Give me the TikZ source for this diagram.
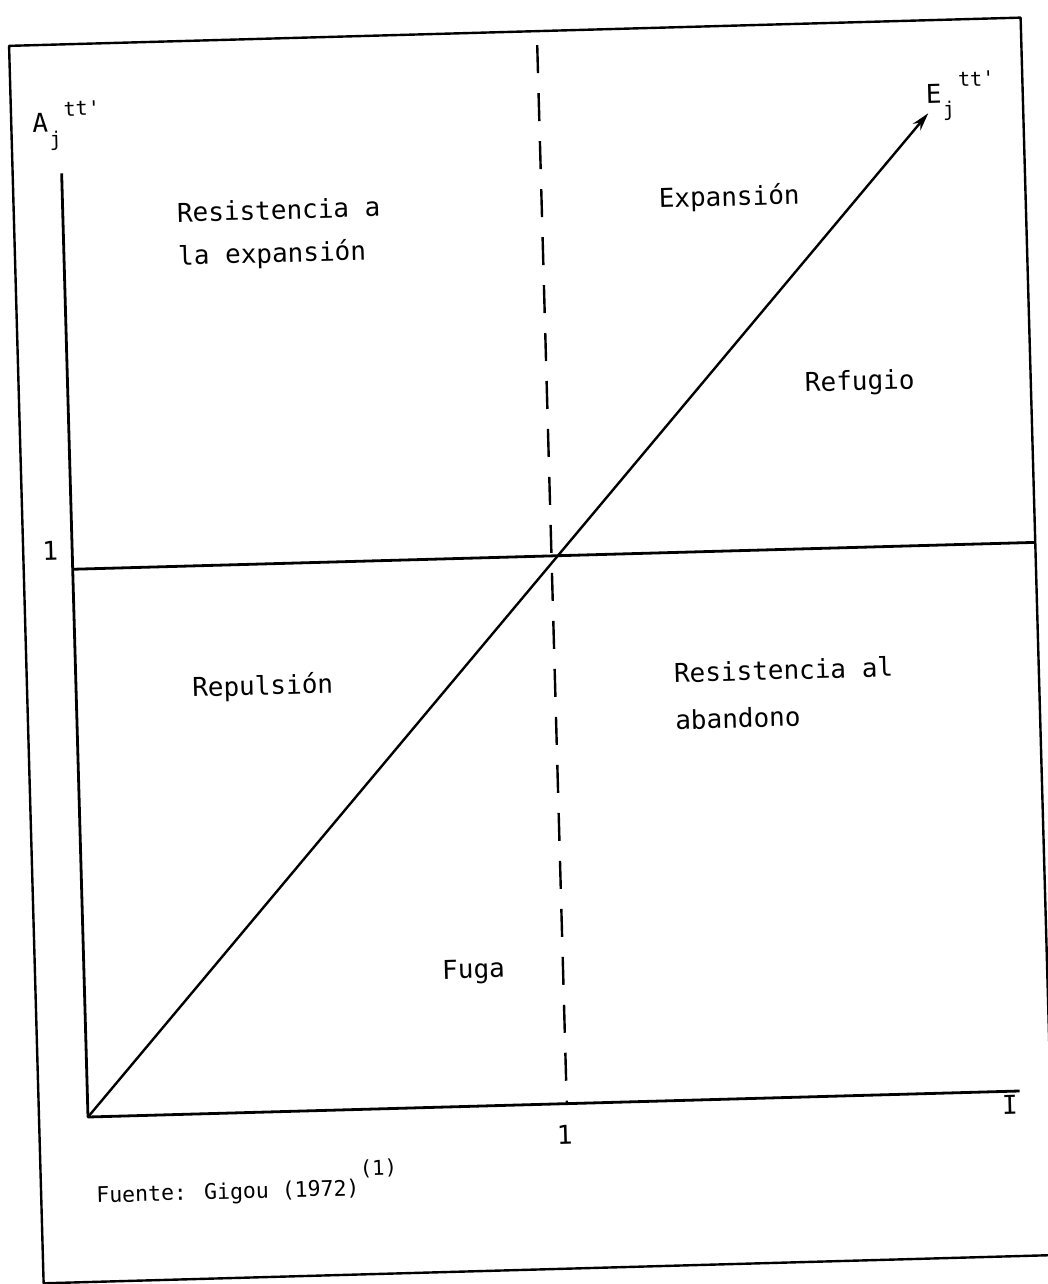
\documentclass[tikz,border=0pt]{standalone}
\usepackage{fontspec}
\usetikzlibrary{arrows.meta}
\newfontfamily\typefont{DejaVu Sans Mono}
\newcommand{\lblsize}{\fontsize{26}{30}\selectfont}
\newcommand{\scrsize}{\fontsize{20}{24}\selectfont}
\newcommand{\srcsize}{\fontsize{21.5}{26}\selectfont}
\newcommand{\supsize}{\fontsize{20.5}{24}\selectfont}

\begin{document}
\begin{tikzpicture}
  [x=1pt, y=1pt,
    line join=round,
    axis/.style={line width=2.8pt},
    frame/.style={line width=2.4pt},
    diag/.style={line width=2.4pt, -{Stealth[length=18pt,width=10pt]}},
    dashline/.style={line width=2.4pt, dash pattern=on 28pt off 20pt},
    lbl/.style={font=\typefont\lblsize, inner sep=0pt, anchor=base west},
    tick/.style={font=\typefont\lblsize, inner sep=0pt},
  ]
  \useasboundingbox[fill=white] (0,0) rectangle (1048,-1284);
  % the scanned page sits a little askew
  \begin{scope}[shift={(88,-1117)}, rotate=1.6, transform shape]
    \coordinate (O) at (0,0);
    \coordinate (ytop) at (0,944);
    \coordinate (xend) at (932,0);
    \coordinate (lvlL) at (0,548);
    \coordinate (lvlR) at (963,548);
    \coordinate (diagend) at (868,980);
    \coordinate (dashtop) at (479,1059);
    \coordinate (dashbot) at (479,0);
    \coordinate (fTL) at (-49,1073);
    \coordinate (fTR) at (963,1073);
    \coordinate (fBR) at (963,-165);
    \coordinate (fBL) at (-49,-165);

    \draw[frame] (fBL) -- (fTL) -- (fTR) -- (fBR) -- cycle;
    \draw[axis] (ytop) -- (O) -- (xend);
    \draw[axis] (lvlL) -- (lvlR);
    \draw[dashline] (dashtop) -- (dashbot);
    \draw[diag] (O) -- (diagend);

    % axis names
    \node[lbl] (aname) at (-28,986)
      {A\kern1pt\raisebox{-15pt}{\scrsize j}\kern3pt\raisebox{15pt}{\scrsize tt\textquotesingle}};
    \node[lbl] (ename) at (866,990)
      {E\kern1pt\raisebox{-14pt}{\scrsize j}\kern4pt\raisebox{16pt}{\scrsize tt\textquotesingle}};
    \node[tick] (yone) at (-22,567) {1};
    \node[tick] (xone) at (476,-31) {1};
    \node[tick] (xname) at (922,-14) {I};

    % regions
    \node[lbl] (resexp1) at (114,892) {Resistencia a};
    \node[lbl] (resexp2) at (114,849) {la expansión};
    \node[lbl] (expan) at (596,893) {Expansión};
    \node[lbl] (refug) at (737,705) {Refugio};
    \node[lbl] (repul) at (116,417) {Repulsión};
    \node[lbl] (resab1) at (598,418) {Resistencia al};
    \node[lbl] (resab2) at (598,371) {abandono};
    \node[lbl] (fuga) at (358,128) {Fuga};

    \node[lbl, font=\typefont\srcsize] (fuente) at (6,-86)
      {Fuente: Gigou (1972)\kern1pt\raisebox{20pt}{\supsize (1)}};
  \end{scope}
\end{tikzpicture}
\end{document}
